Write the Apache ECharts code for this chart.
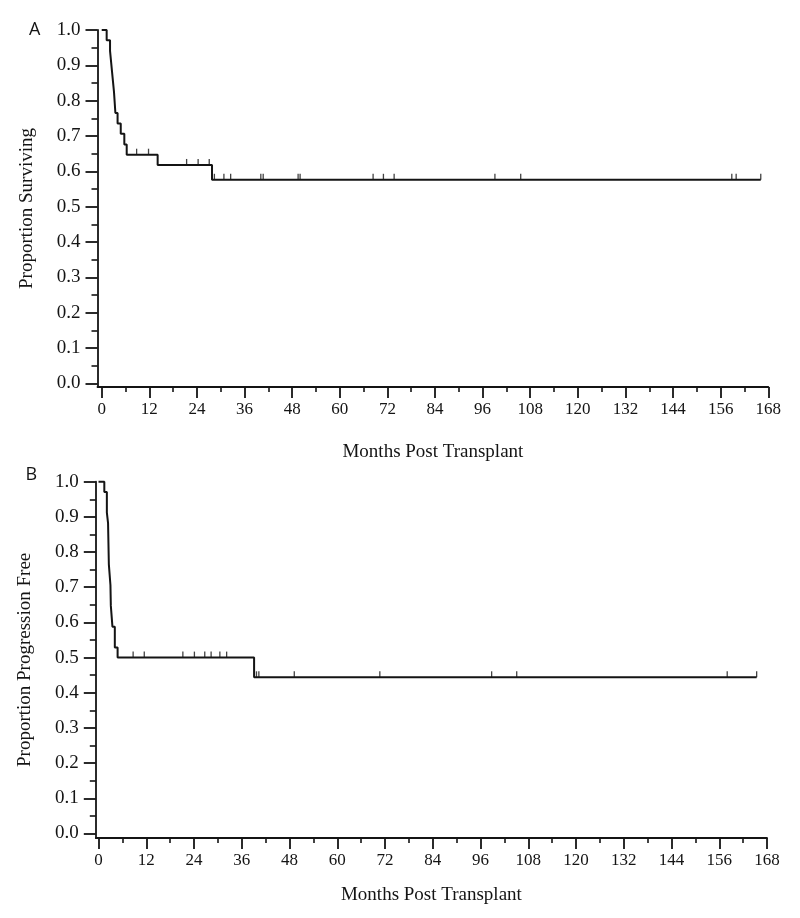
<!DOCTYPE html>
<html>
<head>
<meta charset="utf-8">
<script src="https://cdn.jsdelivr.net/npm/echarts@6/dist/echarts.min.js"></script>
<style>
html,body{margin:0;padding:0;background:#fff;}
#chart{width:800px;height:918px;}
</style>
</head>
<body>
<div id="chart"></div>
<script>
// ---- Data ----
// Panel A: overall survival (Kaplan-Meier)
const timesA = [0, 1.25, 2.1, 2.6, 3.1, 3.45, 4.0, 4.8, 5.7, 6.3, 14.1, 27.8, 166.1];
const survA  = [1, 0.971, 0.941, 0.882, 0.824, 0.765, 0.735, 0.706, 0.676, 0.647, 0.618, 0.576, 0.576];
const censorA = [8.8, 11.8, 21.4, 24.3, 27.1, 28.4, 30.8, 32.5, 40.1, 40.7, 49.5, 50.0, 68.4, 71.0, 73.7, 99.1, 105.6, 158.8, 159.9, 166.1];

// Panel B: progression-free survival
const timesB = [0, 1.46, 2.1, 2.4, 2.6, 3.0, 3.1, 3.5, 4.1, 4.8, 39.1, 165.4];
const survB  = [1, 0.971, 0.912, 0.882, 0.765, 0.706, 0.647, 0.588, 0.529, 0.5, 0.444, 0.444];
const censorB = [8.7, 11.5, 21.2, 24.1, 26.7, 28.3, 30.5, 32.2, 39.7, 40.3, 49.2, 70.7, 98.8, 105.1, 158, 165.4];

// Axis ticks / labels
const xMajor = [0, 12, 24, 36, 48, 60, 72, 84, 96, 108, 120, 132, 144, 156, 168];
const xMinor = [6, 18, 30, 42, 54, 66, 78, 90, 102, 114, 126, 138, 150, 162];
const yMajor = [0, 0.1, 0.2, 0.3, 0.4, 0.5, 0.6, 0.7, 0.8, 0.9, 1.0];
const yMinor = [0.05, 0.15, 0.25, 0.35, 0.45, 0.55, 0.65, 0.75, 0.85, 0.95];
const xTitle = 'Months Post Transplant';
const yTitleA = 'Proportion Surviving';
const yTitleB = 'Proportion Progression Free';

// ---- Helpers ----
function stepValue(times, surv, t) {
  let v = surv[0];
  for (let i = 0; i < times.length; i++) { if (times[i] <= t) v = surv[i]; }
  return v;
}
const INK = '#141414';
const SERIF = '"Liberation Serif", "Times New Roman", serif';

function xAxes(gridIndex, minVal, nameGap) {
  return [
    {
      type: 'value', gridIndex: gridIndex, min: minVal, max: 168, position: 'bottom',
      name: xTitle, nameLocation: 'middle', nameGap: nameGap,
      nameTextStyle: { fontFamily: SERIF, fontSize: 19, color: INK },
      axisLine: { show: true, onZero: false, lineStyle: { color: INK, width: 1.8 } },
      axisTick: { show: true, customValues: xMajor, length: 11, lineStyle: { color: INK, width: 1.8 } },
      axisLabel: { show: true, customValues: xMajor, margin: 14, fontFamily: SERIF, fontSize: 17, color: INK },
      splitLine: { show: false }
    },
    {
      type: 'value', gridIndex: gridIndex, min: minVal, max: 168, position: 'bottom',
      axisLine: { show: false, onZero: false },
      axisTick: { show: true, customValues: xMinor, length: 5, lineStyle: { color: INK, width: 1.6 } },
      axisLabel: { show: false },
      splitLine: { show: false }
    }
  ];
}
function yAxes(gridIndex, minVal, title) {
  return [
    {
      type: 'value', gridIndex: gridIndex, min: minVal, max: 1, position: 'left',
      name: title, nameLocation: 'middle', nameGap: 61, nameRotate: 90,
      nameTextStyle: { fontFamily: SERIF, fontSize: 19, color: INK },
      axisLine: { show: true, onZero: false, lineStyle: { color: INK, width: 1.8 } },
      axisTick: { show: true, customValues: yMajor, length: 12, lineStyle: { color: INK, width: 1.8 } },
      axisLabel: { show: true, customValues: yMajor, margin: 17, fontFamily: SERIF, fontSize: 19, color: INK,
                   formatter: function (v) { return Number(v).toFixed(1); } },
      splitLine: { show: false }
    },
    {
      type: 'value', gridIndex: gridIndex, min: minVal, max: 1, position: 'left',
      axisLine: { show: false, onZero: false },
      axisTick: { show: true, customValues: yMinor, length: 6, lineStyle: { color: INK, width: 1.6 } },
      axisLabel: { show: false },
      splitLine: { show: false }
    }
  ];
}
function curve(times, surv, xi, yi) {
  return {
    type: 'line', step: 'end', xAxisIndex: xi, yAxisIndex: yi,
    data: times.map(function (t, i) { return [t, surv[i]]; }),
    showSymbol: false, symbol: 'none', clip: false, silent: true,
    lineStyle: { color: INK, width: 2 }
  };
}
function censors(times, surv, cens, xi, yi) {
  return {
    type: 'scatter', xAxisIndex: xi, yAxisIndex: yi, silent: true,
    data: cens.map(function (t) { return [t, stepValue(times, surv, t)]; }),
    symbol: 'rect', symbolSize: [1.3, 6], symbolOffset: [0, -3],
    itemStyle: { color: INK }
  };
}

const chart = echarts.init(document.getElementById('chart'), null, { renderer: 'canvas' });
chart.setOption({
  animation: false,
  backgroundColor: '#ffffff',
  grid: [
    { left: 97.5, top: 30, width: 670.8, height: 357, containLabel: false },
    { left: 95.8, top: 481.7, width: 671.2, height: 356.3, containLabel: false }
  ],
  xAxis: xAxes(0, -1.06, 56).concat(xAxes(1, -0.68, 48)),
  yAxis: yAxes(0, -0.0105, yTitleA).concat(yAxes(1, -0.0128, yTitleB)),
  graphic: [
    { type: 'text', left: 29, top: 21, style: { text: 'A', font: '18px "Open Sans", "DejaVu Sans", sans-serif', fill: INK } },
    { type: 'text', left: 25.5, top: 466, style: { text: 'B', font: '18px "Open Sans", "DejaVu Sans", sans-serif', fill: INK } }
  ],
  series: [
    curve(timesA, survA, 0, 0),
    censors(timesA, survA, censorA, 0, 0),
    curve(timesB, survB, 2, 2),
    censors(timesB, survB, censorB, 2, 2)
  ]
});
</script>
</body>
</html>
